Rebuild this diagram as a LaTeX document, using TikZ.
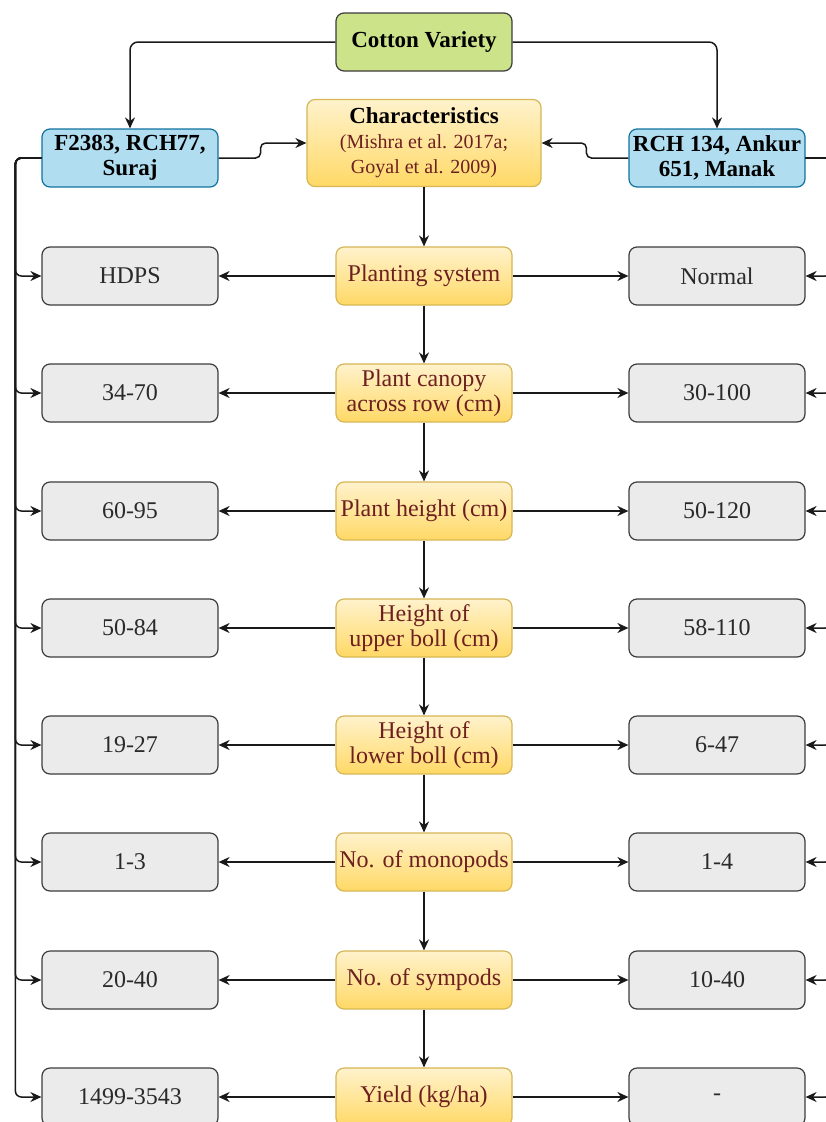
\documentclass[tikz,border=0pt]{standalone}
\usepackage{fontspec}
\setmainfont{Liberation Serif}
\usetikzlibrary{arrows.meta}

\definecolor{greenfill}{HTML}{CDE38A}
\definecolor{bluefill}{HTML}{B1DDF0}
\definecolor{blueline}{HTML}{10739E}
\definecolor{grayfill}{HTML}{EBEBEC}
\definecolor{grayline}{HTML}{3C3C3C}
\definecolor{graytext}{HTML}{2A2A2A}
\definecolor{yellowtop}{HTML}{FFF2CC}
\definecolor{yellowbot}{HTML}{FFD966}
\definecolor{yellowline}{HTML}{D6B656}
\definecolor{charred}{HTML}{6E2020}

\newcommand{\chrefsize}{\fontsize{20}{24}\selectfont}

\begin{document}
\begin{tikzpicture}[x=1pt, y=-1pt, font=\fontsize{24}{25}\selectfont,
  box/.style={draw, line width=1.2pt, rounded corners=8pt, minimum width=176pt,
    minimum height=58pt, align=center, inner sep=2pt},
  valbox/.style={box, fill=grayfill, draw=grayline, text=graytext},
  charbox/.style={box, top color=yellowtop, bottom color=yellowbot, draw=yellowline, text=charred},
  varbox/.style={box, fill=bluefill, draw=blueline, font=\fontsize{23}{25}\selectfont\bfseries},
  arr/.style={-{Stealth[length=11pt, width=10pt]}, line width=1.5pt, black!90},
]
  \useasboundingbox (0,0) rectangle (825,1122);

  % ── Top: variety and the two groups ────────────────────────────────
  \node[box, fill=greenfill, draw=grayline, font=\fontsize{23}{25}\selectfont\bfseries]
    (cv) at (424,42) {Cotton Variety};
  \node[varbox] (lb) at (130,158) {F2383, RCH77,\\ Suraj};
  \node[varbox] (rb) at (717,158) {RCH 134, Ankur\\ 651, Manak};
  \node[charbox, minimum width=234pt, minimum height=87pt] (c0) at (424,143)
    {\textcolor{black}{\fontsize{23}{25}\selectfont\bfseries Characteristics}\\ {\chrefsize (Mishra et al. 2017a;}\\ {\chrefsize Goyal et al. 2009)}};

  \draw[arr, rounded corners=8pt] (cv.west) -| (lb.north);
  \draw[arr, rounded corners=8pt] (cv.east) -| (rb.north);
  \draw[arr, rounded corners=5pt] (lb.east) -- ++(42,0) |- (c0.west);
  \draw[arr, rounded corners=5pt] (rb.west) -- ++(-42,0) |- (c0.east);

  % ── Rows: characteristic in the middle, values on each side ────────
  \foreach \i/\y/\ctext/\ltext/\rtext in {
      1/276/{Planting system}/{HDPS}/{Normal},
      2/393/{Plant canopy\\ across row (cm)}/{34-70}/{30-100},
      3/511/{Plant height (cm)}/{60-95}/{50-120},
      4/628/{Height of\\ upper boll (cm)}/{50-84}/{58-110},
      5/745/{Height of\\ lower boll (cm)}/{19-27}/{6-47},
      6/862/{No. of monopods}/{1-3}/{1-4},
      7/980/{No. of sympods}/{20-40}/{10-40},
      8/1097/{Yield (kg/ha)}/{1499-3543}/{-}} {
    \node[charbox] (c\i) at (424,\y) {\ctext};
    \node[valbox] (l\i) at (130,\y) {\ltext};
    \node[valbox] (r\i) at (717,\y) {\rtext};
    \draw[arr] (c\i) -- (l\i);
    \draw[arr] (c\i) -- (r\i);
    % side buses from the two variety groups
    \draw[arr, rounded corners=6pt] (lb.west) -- ++(-26,0) |- (l\i.west);
    \draw[arr, rounded corners=6pt] (rb.east) -- ++(26,0) |- (r\i.east);
  }

  % chain down the middle
  \foreach \a/\b in {c0/c1, c1/c2, c2/c3, c3/c4, c4/c5, c5/c6, c6/c7, c7/c8}
    \draw[arr] (\a) -- (\b);

\end{tikzpicture}
\end{document}
